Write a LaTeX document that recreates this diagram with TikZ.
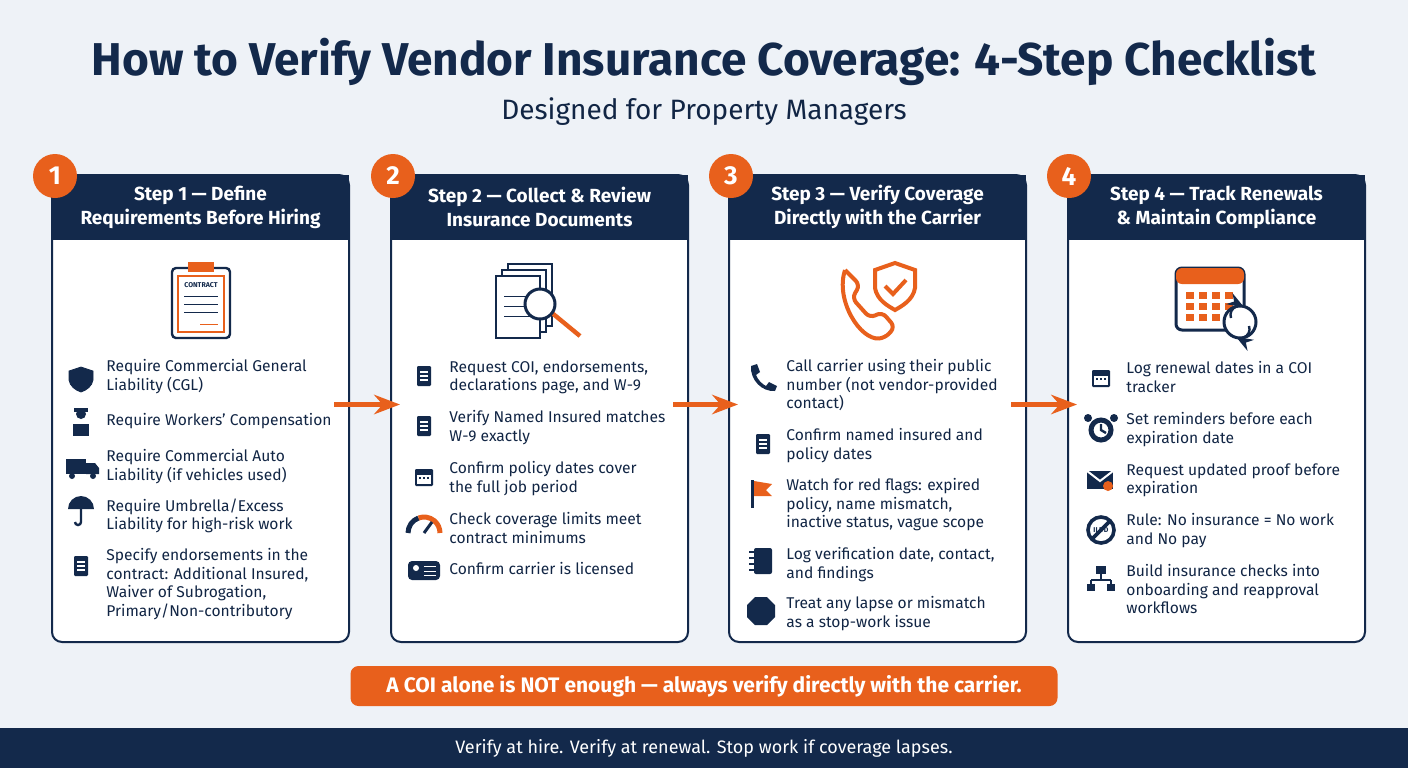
\documentclass[tikz,border=0pt]{standalone}
\usepackage{fontspec}
\setmainfont{Fira Sans}
\usetikzlibrary{positioning,arrows.meta,calc}
\definecolor{navy}{HTML}{13294B}
\definecolor{accent}{HTML}{E8601C}
\definecolor{paper}{HTML}{EEF2F7}
\tikzset{>=Stealth}
\tikzset{
  card/.style={draw=navy, line width=1pt, fill=white, rounded corners=5pt, minimum width=148.5pt, minimum height=233.5pt},
  head/.style={fill=navy, text=white, font=\bfseries\fontsize{9.5}{12}\selectfont, align=center, minimum width=148.5pt, minimum height=32.5pt, inner sep=0pt},
  num/.style={circle, fill=accent, text=white, font=\bfseries\fontsize{13}{13}\selectfont, minimum size=22pt, inner sep=0pt},
  bul/.style={anchor=north west, text=navy!90!black, font=\fontsize{7.8}{9.3}\selectfont, align=left, inner sep=0pt},
  flow/.style={->, accent, line width=2.2pt},
  ico/.style={navy, fill=navy},
}
\newcommand{\bul}[4]{\node[bul] (#1) at (#2,#3) {#4};}
\newcommand{\docicon}[2]{\fill[navy,rounded corners=0.6pt] (#1-7,#2-10) rectangle (#1+7,#2+10);
  \foreach \k in {-4,0,4} \draw[white,line width=0.6pt] (#1-4,#2+\k) -- (#1+4,#2+\k);}
\newcommand{\calicon}[2]{\fill[navy,rounded corners=0.6pt] (#1-9,#2-8) rectangle (#1+9,#2+9);
  \fill[white] (#1-7,#2-2) rectangle (#1+7,#2+7);
  \foreach \i in {-4,0,4} \fill[navy] (#1+\i-1,#2) rectangle (#1+\i+1,#2+2);}
\begin{document}
\begin{tikzpicture}[x=0.5pt,y=-0.5pt]
\useasboundingbox (0,0) rectangle (1408,768);
\fill[paper] (0,0) rectangle (1408,768);
\fill[navy] (0,728) rectangle (1408,768);
% title
\node[text=navy, font=\bfseries\fontsize{23}{26}\selectfont] (title) at (704,62) {How to Verify Vendor Insurance Coverage: 4-Step Checklist};
\node[text=navy!90!black, font=\fontsize{14}{16}\selectfont] (sub) at (704,112) {Designed for Property Managers};
% cards
\foreach \n/\x in {1/200.5,2/539.5,3/877.5,4/1216.5}{
  \node[card] (c\n) at (\x,408.5) {};
  \begin{scope}
    \clip[rounded corners=5pt] (\x-148.5,175) rectangle (\x+148.5,642);
    \fill[navy] (\x-148.5,175) rectangle (\x+148.5,240);
  \end{scope}
}
\node[head] (h1) at (200.5,207) {Step 1 — Define\\Requirements Before Hiring};
\node[head] (h2) at (539.5,207) {Step 2 — Collect \& Review\\Insurance Documents};
\node[head] (h3) at (877.5,207) {Step 3 — Verify Coverage\\Directly with the Carrier};
\node[head] (h4) at (1216.5,207) {Step 4 — Track Renewals\\\& Maintain Compliance};
\node[num] (n1) at (55,176) {1};
\node[num] (n2) at (393,176) {2};
\node[num] (n3) at (731,176) {3};
\node[num] (n4) at (1069,176) {4};
% big icons
\draw[navy, line width=1.2pt, fill=white, rounded corners=2pt] (172,268) rectangle (230,338);
\draw[accent, line width=1.2pt] (178,276) rectangle (224,332);
\fill[accent] (188,262) rectangle (214,272);
\node[text=navy, font=\bfseries\fontsize{3.5}{4}\selectfont] (ct) at (201,285) {CONTRACT};
\foreach \yy in {296,304,312} \draw[navy] (184,\yy) -- (218,\yy);
\draw[accent] (200,324) -- (218,324);
\foreach \dx in {12,6,0} \draw[navy, line width=1.2pt, fill=white] (496+\dx,276-\dx) rectangle (540+\dx,338-\dx);
\foreach \yy in {296,306,316} \draw[navy] (504,\yy) -- (530,\yy);
\draw[accent, line width=2.2pt] (546,308) -- (580,336);
\draw[navy, line width=1.5pt, fill=white] (540,304) circle (15);
\draw[accent, line width=2pt, rounded corners=3pt] (845,270) -- (860,285) -- (852,298) -- (870,318) -- (882,312) -- (895,327) -- (885,338) .. controls (860,340) and (835,300) .. (845,270);
\draw[accent, line width=2pt, fill=white] (895,263) -- (915,270) -- (915,288) .. controls (913,300) and (902,306) .. (895,310) .. controls (888,306) and (877,300) .. (875,288) -- (875,270) -- cycle;
\draw[accent, line width=2pt] (885,286) -- (893,294) -- (906,280);
\draw[navy, line width=1.5pt, fill=white, rounded corners=3pt] (1176,268) rectangle (1244,330);
\fill[accent, rounded corners=3pt] (1176,268) rectangle (1244,284);
\foreach \i in {0,1,2,3} \foreach \j in {0,1,2} \fill[accent] (1186+\i*13,292+\j*11) rectangle (1194+\i*13,299+\j*11);
\draw[navy, line width=1.5pt, fill=white] (1240,322) circle (16);
\draw[navy, line width=1.2pt, ->] (1231,318) arc (160:300:9);
\draw[navy, line width=1.2pt, ->] (1249,326) arc (-20:120:9);
% card 1 bullets
\draw[ico] (81,367) -- (93,371) -- (93,380) .. controls (92,386) and (87,390) .. (81,392) .. controls (75,390) and (70,386) .. (69,380) -- (69,371) -- cycle;
\bul{b11}{106}{359}{Require Commercial General\\Liability (CGL)}
\fill[navy] (81,414) circle (5); \fill[navy] (73,436) rectangle (89,424); \fill[navy] (74,412) rectangle (88,408);
\bul{b12}{106}{413}{Require Workers' Compensation}
\fill[navy] (66,459) rectangle (86,474); \fill[navy] (86,463) -- (95,463) -- (99,468) -- (99,474) -- (86,474) -- cycle;
\fill[navy] (72,476) circle (3); \fill[navy] (93,476) circle (3);
\bul{b13}{106}{449}{Require Commercial Auto\\Liability (if vehicles used)}
\fill[navy] (68,509) arc (180:360:13) -- cycle; \draw[navy, line width=1.2pt] (81,509) -- (81,522) arc (0:180:3);
\bul{b14}{106}{498}{Require Umbrella/Excess\\Liability for high-risk work}
\docicon{81}{566}
\bul{b15}{106}{548}{Specify endorsements in the\\contract: Additional Insured,\\Waiver of Subrogation,\\Primary/Non-contributory}
% card 2 bullets
\docicon{424}{376}
\bul{b21}{449}{360}{Request COI, endorsements,\\declarations page, and W-9}
\docicon{424}{426}
\bul{b22}{449}{410}{Verify Named Insured matches\\W-9 exactly}
\calicon{424}{477}
\bul{b23}{449}{461}{Confirm policy dates cover\\the full job period}
\draw[navy, line width=2.5pt] (408,533) arc (180:250:16); \draw[accent, line width=2.5pt] ($(424,533)+(250:16)$) arc (250:360:16);
\draw[navy, line width=1.5pt] (424,533) -- (432,522);
\bul{b24}{449}{512}{Check coverage limits meet\\contract minimums}
\fill[navy, rounded corners=2pt] (408,561) rectangle (440,580);
\fill[white] (416,568) circle (3); \foreach \yy in {566,571,575} \draw[white] (424,\yy) -- (436,\yy);
\bul{b25}{449}{562}{Confirm carrier is licensed}
% card 3 bullets
\fill[navy] (751,366) -- (757,364) -- (760,372) -- (756,375) .. controls (758,380) and (762,384) .. (766,386) -- (769,382) -- (777,386) -- (775,391) .. controls (762,392) and (750,380) .. (751,366);
\bul{b31}{786}{359}{Call carrier using their public\\number (not vendor-provided\\contact)}
\docicon{763}{444}
\bul{b32}{786}{428}{Confirm named insured and\\policy dates}
\draw[navy, line width=1.5pt] (752,480) -- (752,508);
\fill[accent] (754,481) -- (772,484) -- (766,490) -- (772,496) -- (754,496) -- cycle;
\bul{b33}{786}{478}{Watch for red flags: expired\\policy, name mismatch,\\inactive status, vague scope}
\fill[navy, rounded corners=1pt] (754,548) rectangle (772,574); \foreach \yy in {552,558,564,570} \draw[navy, line width=1.2pt] (749,\yy) -- (755,\yy);
\bul{b34}{786}{547}{Log verification date, contact,\\and findings}
\fill[navy] (755,597) -- (767,597) -- (775,605) -- (775,617) -- (767,625) -- (755,625) -- (747,617) -- (747,605) -- cycle;
\bul{b35}{786}{596}{Treat any lapse or mismatch\\as a stop-work issue}
% card 4 bullets
\calicon{1101}{378}
\bul{b41}{1126}{361}{Log renewal dates in a COI\\tracker}
\draw[navy, line width=2.5pt] (1101,430) circle (10); \draw[navy, line width=1.2pt] (1101,424) -- (1101,430) -- (1106,433);
\fill[navy] (1088,418) circle (4); \fill[navy] (1114,418) circle (4);
\bul{b42}{1126}{412}{Set reminders before each\\expiration date}
\fill[navy] (1087,471) rectangle (1113,489); \draw[white, line width=1pt] (1087,471) -- (1100,481) -- (1113,471);
\fill[accent] (1108,486) circle (5);
\bul{b43}{1126}{463}{Request updated proof before\\expiration}
\draw[navy, line width=1.8pt] (1101,530) circle (13); \draw[navy, line width=1.8pt] (1092,539) -- (1110,521);
\node[text=navy, font=\bfseries\fontsize{3.5}{4}\selectfont] (nc) at (1101,530) {ILE\,D};
\bul{b44}{1126}{513}{Rule: No insurance = No work\\and No pay}
\fill[navy] (1096,566) rectangle (1106,574); \draw[navy, line width=1.2pt] (1101,574) -- (1101,580) (1091,580) -- (1111,580) (1091,580) -- (1091,584) (1111,580) -- (1111,584);
\fill[navy] (1087,584) rectangle (1095,591); \fill[navy] (1107,584) rectangle (1115,591);
\bul{b45}{1126}{564}{Build insurance checks into\\onboarding and reapproval\\workflows}
% arrows between cards
\draw[flow] ([xshift=-8pt,yshift=2pt]c1.east) -- ([xshift=5pt,yshift=2pt]c2.west);
\draw[flow] ([xshift=-8pt,yshift=2pt]c2.east) -- ([xshift=5pt,yshift=2pt]c3.west);
\draw[flow] ([xshift=-8pt,yshift=2pt]c3.east) -- ([xshift=5pt,yshift=2pt]c4.west);
% banner and footer
\node[fill=accent, rounded corners=4pt, text=white, font=\bfseries\fontsize{10.5}{12}\selectfont, minimum width=353.5pt, minimum height=20pt] (note) at (704,686) {A COI alone is NOT enough — always verify directly with the carrier.};
\node[text=white, font=\fontsize{9}{10}\selectfont] (foot) at (704,748) {Verify at hire. Verify at renewal. Stop work if coverage lapses.};
\end{tikzpicture}
\end{document}
